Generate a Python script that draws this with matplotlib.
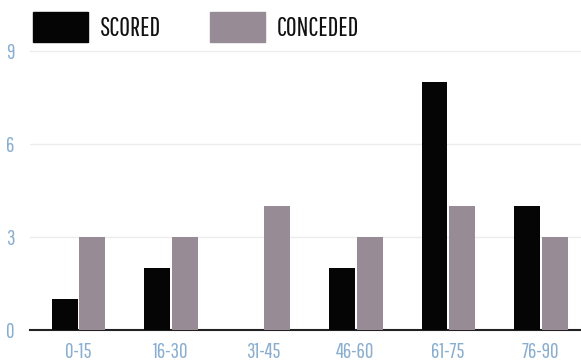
import numpy as np
import matplotlib
matplotlib.use("Agg")
import matplotlib.pyplot as plt
from matplotlib.patches import Rectangle

# goals per 15-minute period
periods = ["0-15", "16-30", "31-45", "46-60", "61-75", "76-90"]
scored = [1, 2, 0, 2, 8, 4]
conceded = [3, 3, 4, 3, 4, 3]
yticks = [0, 3, 6, 9]

FONT = ["Pathway Gothic One", "DejaVu Sans"]
TICK_BLUE = "#8aaed0"
SCORED_COL = "#050505"
CONCEDED_COL = "#978c95"

fig = plt.figure(figsize=(5.81, 3.64), dpi=100)
ax = fig.add_axes([30 / 581, 34 / 364, 551 / 581, 290 / 364])

x = np.arange(len(periods))
w = 0.28
ax.bar(x - 0.145, scored, width=w, color=SCORED_COL, zorder=3)
ax.bar(x + 0.155, conceded, width=w, color=CONCEDED_COL, zorder=3)

ax.set_xlim(-0.52, 5.44)
ax.set_ylim(0, 9.35)
ax.set_yticks(yticks)
ax.set_xticks(x)
ax.set_xticklabels(periods)
ax.grid(axis="y", color="#ececec", linewidth=1, zorder=0)

for s in ["top", "right", "left"]:
    ax.spines[s].set_visible(False)
ax.spines["bottom"].set_color("#222222")
ax.spines["bottom"].set_linewidth(1.5)
ax.tick_params(length=0, colors=TICK_BLUE, labelsize=15)
ax.tick_params(axis="x", pad=9)
ax.tick_params(axis="y", pad=11)
for lab in ax.get_xticklabels() + ax.get_yticklabels():
    lab.set_family(FONT)

# legend drawn in figure coordinates across the top
def key(x0, colour, text):
    fig.patches.append(Rectangle((x0 / 581, 1 - 42 / 364), 55 / 581, 30 / 364,
                                 transform=fig.transFigure, color=colour))
    fig.text((x0 + 67) / 581, 1 - 28 / 364, text, fontsize=19, va="center",
             ha="left", color="#111111", family=FONT)

key(33, SCORED_COL, "SCORED")
key(210, CONCEDED_COL, "CONCEDED")

fig.savefig("out.png", dpi=100)
